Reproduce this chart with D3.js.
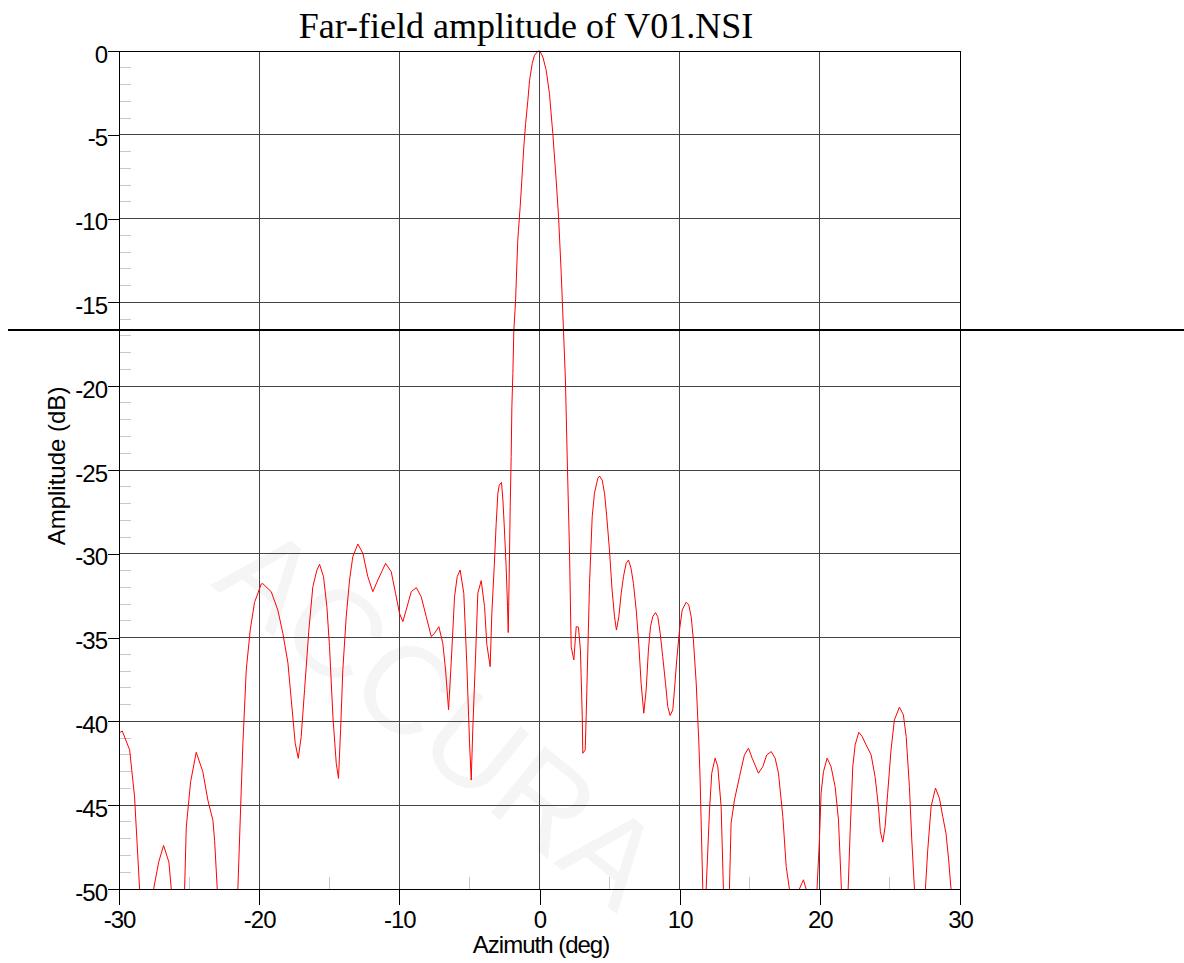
<!DOCTYPE html>
<html>
<head>
    <meta charset="utf-8">
    <title>Far-field amplitude of V01.NSI</title>
    <script src="https://d3js.org/d3.v7.min.js"></script>
 <style>
        html,body {
            margin: 0;
            background-color: white;
        }
        svg { display: block; }
        .tick text {
            font-family: 'Liberation Sans', Arial, sans-serif;
            font-size: 24px;
            letter-spacing: -1px;
            fill: black;
        }
        .lbl {
            font-family: 'Liberation Sans', Arial, sans-serif;
            font-size: 24px;
            fill: black;
        }
    </style>
</head>
<body>
<div id='main'></div>
<script>

//DATA
let title = 'Far-field amplitude of V01.NSI'
let xLabel = 'Azimuth (deg)'
let yLabel = 'Amplitude (dB)'
let watermark = 'ACCURA'
let xTicks = [-30,-20,-10,0,10,20,30]
let yTicks = [0,-5,-10,-15,-20,-25,-30,-35,-40,-45,-50]
let markerLevel = -16.65   // the stray horizontal cursor line

// azimuth (deg) / amplitude (dB); values under -50 fall off the plot
let az = [
 -30.0,-29.77,-29.24,-28.89,-28.53,-28.4,-28.0,-27.7,-27.53,-27.17,-26.82,-26.44,-26.27,-26.1,-25.7,-25.45,
 -25.32,-25.2,-24.89,-24.49,-24.02,-23.66,-23.3,-23.18,-22.99,-22.8,-22.2,-21.7,
 -21.52,-21.28,-21.16,-20.92,-20.63,-20.33,-19.85,-19.74,-19.14,-18.67,-18.31,-17.95,-17.71,-17.43,-17.21,
 -17.0,-16.76,-16.45,-16.17,-15.88,-15.69,-15.41,-15.17,-14.98,-14.74,-14.5,-14.34,
 -14.19,-14.03,-13.79,-13.55,-13.32,-12.96,-12.6,-12.25,-11.89,-11.53,-10.98,-10.58,-10.27,-9.99,-9.75,
 -9.51,-9.15,-8.79,-8.44,-8.08,-7.72,-7.49,-7.18,-6.9,-6.7,-6.49,
 -6.3,-6.06,-5.87,-5.66,-5.4,-5.19,-4.99,-4.87,-4.76,-4.56,-4.4,-4.16,-3.92,-3.76,-3.52,
 -3.4,-3.23,-3.09,-2.97,-2.87,-2.71,-2.61,-2.5,-2.38,-2.28,-2.23,
 -2.16,-2.09,-2.02,-1.97,-1.9,-1.83,-1.71,-1.55,-1.5,-1.38,-1.26,-1.12,-0.99,-0.83,-0.71,-0.52,-0.36,-0.12,0.03,
 0.24,0.48,0.71,0.95,1.19,1.36,1.55,1.71,1.85,1.98,2.14,2.26,2.45,
 2.62,2.78,2.92,3.05,3.09,3.26,3.33,3.45,3.57,3.76,3.92,4.16,4.28,4.47,4.64,4.8,4.99,5.18,5.35,5.49,
 5.66,5.83,5.99,6.18,6.35,6.53,6.7,6.9,7.08,7.25,7.44,
 7.61,7.77,7.92,8.08,8.27,8.44,8.61,8.79,8.99,9.15,9.32,
 9.51,9.63,9.79,9.99,10.18,10.46,10.65,10.82,10.98,11.18,11.36,11.46,11.65,11.72,11.8,
 11.89,12.13,12.29,12.53,12.72,12.96,13.12,13.2,13.45,
 13.55,13.67,13.91,14.27,14.62,14.91,15.17,15.62,15.93,16.21,16.53,16.81,17.05,17.36,17.6,17.83,18.0,18.4,
 18.54,18.83,19.02,19.2,19.6,
 19.8,19.97,20.09,20.26,20.52,20.8,21.09,21.33,21.54,21.65,21.9,
 22.02,22.16,22.35,22.52,22.78,23.02,23.3,23.66,23.94,24.18,24.32,24.49,
 24.66,24.84,25.08,25.32,25.68,25.96,26.16,26.39,26.56,26.75,26.9,27.4,
 27.53,27.7,27.94,28.25,28.53,28.77,29.0,29.19,29.36,29.5,30.0
]
let amp = [
 -40.7,-40.57,-41.7,-44.5,-50.0,-54,-60,-54,-50.0,-48.4,-47.4,-48.4,-50.0,-55,-58,-54,
 -50.0,-46.3,-43.6,-41.84,-43.0,-44.7,-45.9,-47.1,-50.0,-55,-60,-55,
 -50.0,-44.1,-41.3,-36.9,-34.5,-32.9,-31.8,-31.78,-32.26,-33.35,-34.74,-36.5,-38.7,-41.3,-42.2,
 -40.9,-38.1,-34.5,-31.96,-30.97,-30.63,-31.36,-33.15,-35.54,-39.7,-42.5,-43.4,
 -40.5,-36.9,-33.75,-31.56,-30.17,-29.42,-29.97,-31.36,-32.26,-31.56,-30.57,-31.07,-32.36,-33.55,-34.05,
 -33.35,-32.26,-32.02,-32.56,-33.75,-34.94,-34.74,-34.35,-35.34,-36.93,-39.3,
 -36.5,-32.56,-31.36,-30.97,-32.36,-36.5,-41.3,-43.5,-40.5,-36.1,-32.36,-31.6,-33.15,-35.4,-36.73,
 -33.55,-30.77,-28.18,-26.39,-25.9,-25.74,-26.79,-28.58,-30.77,-33.15,-34.7,
 -31.16,-27.19,-24.2,-21.2,-19.24,-16.65,-14.97,-11.29,-10.69,-9.3,-7.71,-5.72,-4.33,-2.94,-1.75,-0.75,-0.26,-0.02,0.0,
 -0.36,-1.15,-2.54,-4.93,-7.71,-9.9,-13.27,-16.65,-19.63,-24.4,-29.77,-35.54,-36.33,
 -34.35,-34.38,-35.74,-39.71,-41.9,-41.7,-39.71,-35.74,-31.76,-27.79,-26.39,-25.5,-25.36,-25.6,-26.39,-27.79,-29.77,-32.16,-33.75,-34.55,
 -33.75,-32.36,-31.37,-30.57,-30.37,-30.86,-31.76,-33.35,-35.34,-37.72,-39.51,
 -38.12,-35.74,-34.35,-33.75,-33.51,-33.75,-34.74,-36.13,-37.72,-39.12,-39.65,
 -39.31,-38.12,-36.33,-34.54,-33.35,-32.89,-33.05,-33.75,-35.14,-37.72,-41.1,-43.49,-50.0,-54,-54,
 -50.0,-45.28,-43.09,-42.19,-42.7,-45.08,-50.0,-55,-55,
 -50.0,-46.07,-44.68,-43.29,-42.0,-41.6,-42.19,-43.09,-42.7,-42.0,-41.8,-42.19,-43.09,-45.68,-48.66,-50.0,-53,-53,
 -50.0,-49.45,-50.0,-54,-54,
 -50.0,-47.07,-44.28,-43.0,-42.19,-42.7,-43.89,-45.87,-50.0,-54,-54,
 -50.0,-46.67,-42.7,-41.4,-40.65,-40.9,-41.4,-42.0,-43.29,-45.08,-46.57,-47.2,
 -46.27,-44.28,-41.7,-39.91,-39.15,-39.61,-40.9,-43.89,-47.07,-50.0,-55,-55,
 -50.0,-47.66,-45.08,-43.98,-44.58,-45.68,-46.67,-48.26,-50.0,-55,-58
]

//LAYOUT
let W = 1184, H = 963
let pLeft = 119, pRight = 960, pTop = 51, pBottom = 889

let svg = d3.select('#main').append('svg')
    .attr('width', W)
    .attr('height', H)

svg.append('rect').attr('width', W).attr('height', H).attr('fill', 'white')

let x = d3.scaleLinear().domain([-30, 30]).range([pLeft, pRight])
let y = d3.scaleLinear().domain([-50, 0]).range([pBottom, pTop])

// faint watermark behind the plot, one glyph at a time along a diagonal
let wm = svg.append('g').attr('transform', 'translate(210,585) rotate(39)')
let adv = 0
watermark.split('').forEach(ch => {
    let t = wm.append('text')
        .text(ch)
        .attr('x', adv)
        .attr('font-family', "'Liberation Sans', Arial, sans-serif")
        .attr('font-size', 124)
        .attr('fill', '#f5f5f5')
    adv += t.node().getComputedTextLength()
})

//GRID
let grid = svg.append('g').attr('shape-rendering', 'crispEdges')

grid.selectAll('.vg')
    .data(xTicks.slice(1, -1))
    .enter().append('line')
    .attr('x1', d => x(d)).attr('x2', d => x(d))
    .attr('y1', pTop).attr('y2', pBottom)
    .attr('stroke', '#444')

grid.selectAll('.hg')
    .data(yTicks.slice(1, -1))
    .enter().append('line')
    .attr('x1', pLeft).attr('x2', pRight)
    .attr('y1', d => y(d)).attr('y2', d => y(d))
    .attr('stroke', '#444')

// minor ticks inside the plot
let yMinor = d3.range(-49, 0).filter(v => v % 5 != 0)
grid.selectAll('.ym')
    .data(yMinor)
    .enter().append('line')
    .attr('x1', pLeft).attr('x2', pLeft + 12)
    .attr('y1', d => y(d)).attr('y2', d => y(d))
    .attr('stroke', '#c8c8c8')

let xMinor = [-25,-15,-5,5,15,25]
grid.selectAll('.xm')
    .data(xMinor)
    .enter().append('line')
    .attr('x1', d => x(d)).attr('x2', d => x(d))
    .attr('y1', pBottom - 12).attr('y2', pBottom)
    .attr('stroke', '#c8c8c8')

//TRACE
svg.append('clipPath').attr('id', 'clip')
    .append('rect')
    .attr('x', pLeft).attr('y', pTop - 2)
    .attr('width', pRight - pLeft).attr('height', pBottom - pTop + 2)

let pts = az.map((a, i) => [a, amp[i]])
let line = d3.line().x(d => x(d[0])).y(d => y(d[1]))

svg.append('path')
    .datum(pts)
    .attr('clip-path', 'url(#clip)')
    .attr('d', line)
    .attr('fill', 'none')
    .attr('stroke', '#ff0000')
    .attr('stroke-width', 1)

//AXES
let plain = d => String(d)   // hyphen minus, as in the original

let xAxis = svg.append('g')
    .attr('transform', 'translate(0,' + pBottom + ')')
    .call(d3.axisBottom(x).tickValues(xTicks).tickSize(16).tickFormat(plain))
xAxis.select('.domain').remove()
xAxis.selectAll('.tick line').attr('stroke', 'black').attr('shape-rendering', 'crispEdges')
xAxis.selectAll('.tick text').attr('y', 39).attr('dy', 0)

let yAxis = svg.append('g')
    .attr('transform', 'translate(' + pLeft + ',0)')
    .call(d3.axisLeft(y).tickValues(yTicks).tickSize(11).tickFormat(plain))
yAxis.select('.domain').remove()
yAxis.selectAll('.tick line').attr('stroke', 'black').attr('shape-rendering', 'crispEdges')
yAxis.selectAll('.tick text').attr('x', -12).attr('dy', '0.46em')

// frame
svg.append('rect')
    .attr('x', pLeft).attr('y', pTop)
    .attr('width', pRight - pLeft).attr('height', pBottom - pTop)
    .attr('fill', 'none')
    .attr('stroke', 'black')
    .attr('shape-rendering', 'crispEdges')

// cursor line across the whole picture
svg.append('line')
    .attr('x1', 8).attr('x2', W)
    .attr('y1', y(markerLevel)).attr('y2', y(markerLevel))
    .attr('stroke', 'black')
    .attr('stroke-width', 2)

//LABELS
svg.append('text')
    .text(title)
    .attr('x', 526).attr('y', 38)
    .attr('text-anchor', 'middle')
    .attr('font-family', "'Liberation Serif', 'Times New Roman', serif")
    .attr('font-size', 36)
    .attr('fill', 'black')

svg.append('text')
    .attr('class', 'lbl')
    .text(xLabel)
    .attr('x', 541).attr('y', 953)
    .attr('text-anchor', 'middle')
    .attr('letter-spacing', '-1px')

svg.append('text')
    .attr('class', 'lbl')
    .text(yLabel)
    .attr('transform', 'translate(65,466) rotate(-90)')
    .attr('text-anchor', 'middle')

</script>
</body>
</html>
